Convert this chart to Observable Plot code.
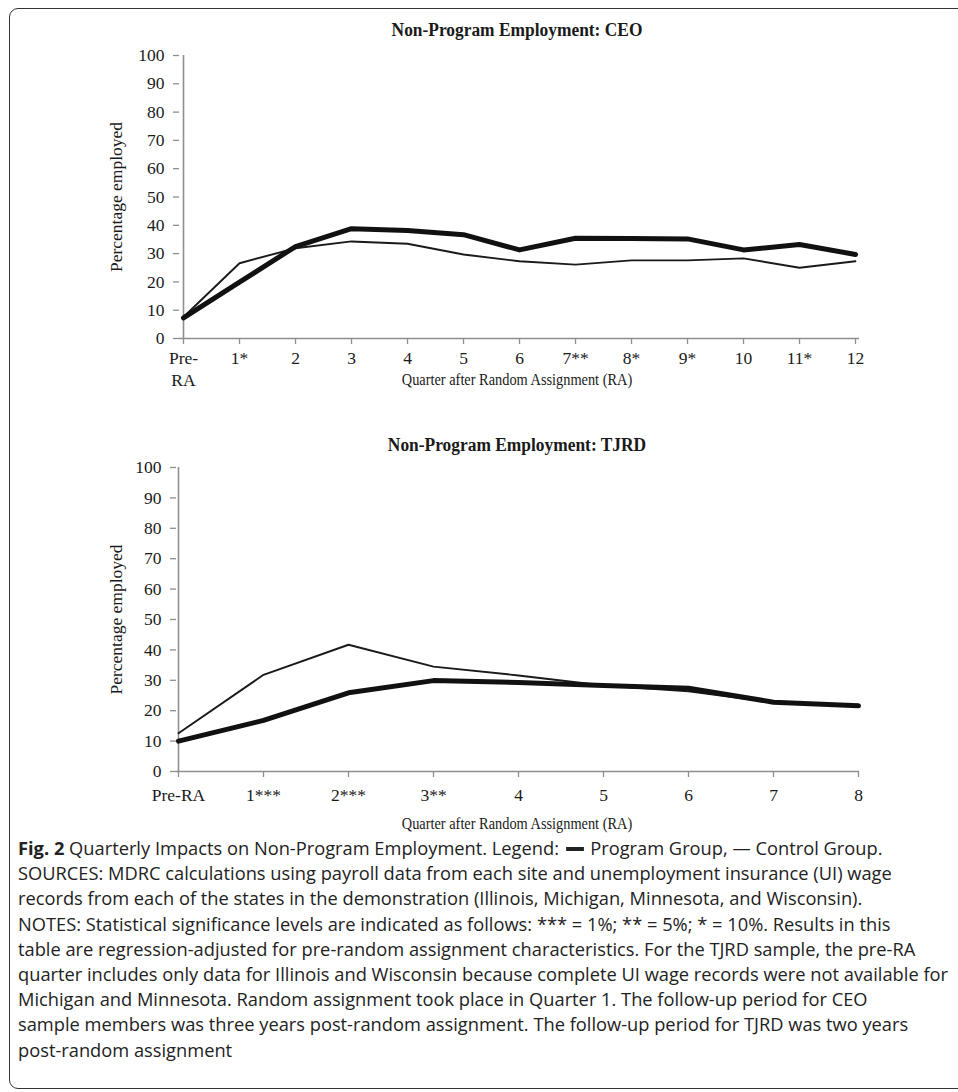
<!DOCTYPE html>
<html>
<head>
<meta charset="utf-8">
<script src="https://cdn.jsdelivr.net/npm/d3@7"></script>
<script src="https://cdn.jsdelivr.net/npm/@observablehq/plot@0.6"></script>
<style>
  body { margin: 0; background: #fff; }
  #root { position: relative; width: 958px; height: 1092px; overflow: hidden; font-family: "Liberation Serif", "Times New Roman", serif; color: #1a1a1a; }
  .box { position: absolute; left: 9px; top: 8px; width: 990px; height: 1081px; border: 1.6px solid #333; border-radius: 9px; box-sizing: border-box; }
  .ctitle { position: absolute; left: 0; width: 1034px; text-align: center; font-weight: bold; font-size: 18.5px; line-height: 1; transform: scaleX(0.94); transform-origin: 517px 50%; }
  .xtitle { position: absolute; left: 0; width: 1034px; text-align: center; font-size: 17.5px; line-height: 1; transform: scaleX(0.82); transform-origin: 517px 50%; }
  .chart { position: absolute; left: 0; }
  .caption { position: absolute; left: 18px; top: 835px; font-family: "Open Sans", "Noto Sans", sans-serif; font-size: 18.5px; color: #222; }
  .caption div { white-space: nowrap; height: 25.2px; line-height: 25.2px; transform-origin: 0 50%; }
  .thick { display: inline-block; width: 18px; height: 4px; background: #222; vertical-align: middle; margin: 0 2px 3px 2px; }
</style>
</head>
<body>
<div id="root">
  <div class="box"></div>
  <div class="ctitle" style="top:21px">Non-Program Employment: CEO</div>
  <div class="ctitle" style="top:436px">Non-Program Employment: TJRD</div>
  <div id="top" class="chart" style="top:0px"></div>
  <div id="bottom" class="chart" style="top:400px"></div>
  <div class="xtitle" style="top:371px">Quarter after Random Assignment (RA)</div>
  <div class="xtitle" style="top:815px">Quarter after Random Assignment (RA)</div>
  <div class="caption" id="caption"></div>
</div>
<script>
// ---- Data ----
const yTicks = [0, 10, 20, 30, 40, 50, 60, 70, 80, 90, 100];

const ceoQuarters = ["Pre-RA", "1*", "2", "3", "4", "5", "6", "7**", "8*", "9*", "10", "11*", "12"];
const ceoProgram  = [7.3, 19.9, 32.5, 38.8, 38.2, 36.7, 31.3, 35.4, 35.3, 35.2, 31.3, 33.2, 29.7];
const ceoControl  = [7.6, 26.6, 31.9, 34.3, 33.5, 29.7, 27.3, 26.1, 27.6, 27.6, 28.3, 25.0, 27.3];

const tjrdQuarters = ["Pre-RA", "1***", "2***", "3**", "4", "5", "6", "7", "8"];
const tjrdProgram  = [10.0, 16.8, 25.9, 29.9, 29.3, 28.3, 27.4, 22.8, 21.6];
const tjrdControl  = [12.6, 31.8, 41.7, 34.5, 31.6, 28.3, 26.4, 22.7, 21.8];

const captionLines = [
  "SOURCES: MDRC calculations using payroll data from each site and unemployment insurance (UI) wage",
  "records from each of the states in the demonstration (Illinois, Michigan, Minnesota, and Wisconsin).",
  "NOTES: Statistical significance levels are indicated as follows: *** = 1%; ** = 5%; * = 10%. Results in this",
  "table are regression-adjusted for pre-random assignment characteristics. For the TJRD sample, the pre-RA",
  "quarter includes only data for Illinois and Wisconsin because complete UI wage records were not available for",
  "Michigan and Minnesota. Random assignment took place in Quarter 1. The follow-up period for CEO",
  "sample members was three years post-random assignment. The follow-up period for TJRD was two years",
  "post-random assignment"
];

// ---- Chart builder ----
function chart(cats, prog, ctrl, o) {
  const programRows = cats.map((q, i) => ({q, v: prog[i]}));
  const controlRows = cats.map((q, i) => ({q, v: ctrl[i]}));
  const axisGray = "#8f8f8f";
  return Plot.plot({
    width: 958,
    height: o.height,
    marginLeft: o.marginLeft,
    marginRight: o.marginRight,
    marginTop: o.marginTop,
    marginBottom: o.marginBottom,
    style: {fontFamily: '"Liberation Serif", "Times New Roman", serif', fontSize: "17.5px", color: "#1a1a1a", background: "transparent", overflow: "visible"},
    x: {type: "point", domain: cats, padding: 0, label: null},
    y: {domain: [0, 100], label: null},
    marks: [
      Plot.ruleY([0], {stroke: axisGray, strokeWidth: 1.6}),
      Plot.ruleX([cats[0]], {stroke: axisGray, strokeWidth: 1.6}),
      Plot.axisY({ticks: yTicks, tickSize: 6, tickPadding: 9, stroke: axisGray, strokeWidth: 1.3,
                  label: "Percentage employed", labelAnchor: "center", labelArrow: "none", labelOffset: o.yLabelOffset}),
      Plot.axisX({tickSize: 6, tickPadding: o.xTickPadding, stroke: axisGray, strokeWidth: 1.3,
                  tickFormat: o.tickFormat, label: null, lineHeight: 1.3}),
      Plot.line(controlRows, {x: "q", y: "v", stroke: "#1a1a1a", strokeWidth: 1.9}),
      Plot.line(programRows, {x: "q", y: "v", stroke: "#111", strokeWidth: 5})
    ]
  });
}

document.getElementById("top").append(chart(ceoQuarters, ceoProgram, ceoControl, {
  height: 400, marginLeft: 179, marginRight: 99, marginTop: 55, marginBottom: 62,
  yLabelOffset: 70, xTickPadding: 3,
  tickFormat: d => d === "Pre-RA" ? "Pre-\nRA" : d
}));

document.getElementById("bottom").append(chart(tjrdQuarters, tjrdProgram, tjrdControl, {
  height: 440, marginLeft: 176, marginRight: 99, marginTop: 67, marginBottom: 69,
  yLabelOffset: 67, xTickPadding: 7,
  tickFormat: d => d
}));

// ---- Caption ----
const cap = document.getElementById("caption");
const first = document.createElement("div");
const b = document.createElement("b"); b.textContent = "Fig. 2"; first.append(b);
first.append(" Quarterly Impacts on Non-Program Employment. Legend: ");
const bar = document.createElement("span"); bar.className = "thick"; first.append(bar);
first.append(" Program Group, \u2014 Control Group.");
cap.append(first);
for (const line of captionLines) {
  const d = document.createElement("div"); d.textContent = line; cap.append(d);
}
// condense uniformly so that the widest line ends near the right edge
let maxW = 0;
for (const d of cap.children) {
  const r = document.createRange(); r.selectNodeContents(d);
  maxW = Math.max(maxW, r.getBoundingClientRect().width);
}
const s = Math.min(1, 930 / maxW);
for (const d of cap.children) { d.style.transform = `scaleX(${s})`; }
</script>
</body>
</html>
